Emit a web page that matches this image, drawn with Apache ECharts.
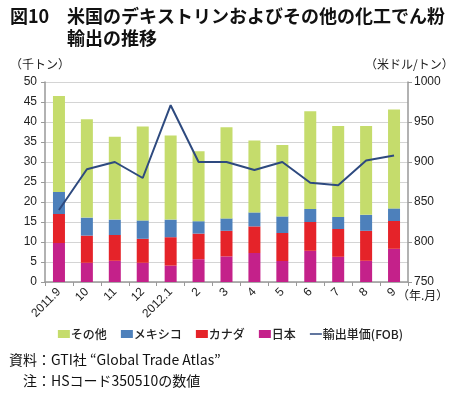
<!DOCTYPE html>
<html><head><meta charset="utf-8">
<script src="https://cdn.jsdelivr.net/npm/echarts@6/dist/echarts.min.js"></script>
<style>html,body{margin:0;padding:0;background:#fff}#c{width:461px;height:395px}</style>
</head><body><div id="c"></div>
<script>
const categories = ['2011.9','10','11','12','2012.1','2','3','4','5','6','7','8','9'];
const japan  = [9.75, 4.8, 5.3, 4.8, 4.1, 5.7, 6.4, 7.25, 5.25, 7.8, 6.3, 5.3, 8.3];
const canada = [7.25, 6.8, 6.45, 6.0, 7.1, 6.4, 6.4, 6.65, 7.0, 7.2, 6.95, 7.5, 6.95];
const mexico = [5.5, 4.5, 3.85, 4.6, 4.4, 3.1, 3.1, 3.5, 4.15, 3.25, 3.0, 4.0, 3.15];
const others = [24.0, 24.6, 20.7, 23.5, 21.0, 17.5, 22.8, 18.0, 17.85, 24.45, 22.75, 22.2, 24.7];
const unitPrice = [840, 891, 900, 880, 971, 900, 900, 890, 900, 874, 871, 902, 908];
const leftTicks = {min: 0, max: 50, interval: 5};
const rightTicks = {min: 750, max: 1000, interval: 50};

const FONT = '"Liberation Sans","Noto Sans CJK JP",sans-serif';
const JP = '"Noto Sans CJK JP","Liberation Sans",sans-serif';
const chart = echarts.init(document.getElementById('c'));
const barW = 12;
const lineIcon = 'path://M0,3.2L12,3.2L12,4.8L0,4.8Z M0,0L0.01,0L0,0.01Z M12,8L11.99,8L12,7.99Z';
chart.setOption({
  animation: false,
  textStyle: {fontFamily: FONT},
  grid: {left: 45, right: 53, top: 82, bottom: 113, containLabel: false},
  legend: {
    left: 'center', top: 323, itemWidth: 12, itemHeight: 8, itemGap: 14,
    textStyle: {fontFamily: JP, fontSize: 12, fontWeight: 500, color: '#222', padding: [0,0,0,-4]},
    data: [
      {name: 'その他', icon: 'rect'},
      {name: 'メキシコ', icon: 'rect'},
      {name: 'カナダ', icon: 'rect'},
      {name: '日本', icon: 'rect'},
      {name: '輸出単価(FOB)', icon: lineIcon}
    ]
  },
  xAxis: {
    type: 'category', data: categories,
    axisLine: {lineStyle: {color: '#999', width: 1.5}},
    axisTick: {show: true, lineStyle: {color: '#999'}, length: 4},
    axisLabel: {rotate: 45, fontSize: 12, color: '#222', margin: 8, interval: 0, fontFamily: FONT}
  },
  yAxis: [
    {type: 'value', min: leftTicks.min, max: leftTicks.max, interval: leftTicks.interval,
     axisLine: {show: true, lineStyle: {color: '#999', width: 1.5}},
     axisTick: {show: true, length: 4, lineStyle: {color: '#999'}},
     splitLine: {lineStyle: {color: '#d4d4d4', width: 1}},
     axisLabel: {fontSize: 12, color: '#222', margin: 8}},
    {type: 'value', min: rightTicks.min, max: rightTicks.max, interval: rightTicks.interval,
     axisLine: {show: true, lineStyle: {color: '#999', width: 1.5}},
     axisTick: {show: true, length: 4, lineStyle: {color: '#999'}},
     splitLine: {show: false},
     axisLabel: {fontSize: 12, color: '#222', margin: 6, formatter: v => String(v)}}
  ],
  series: [
    {name: '日本', type: 'bar', stack: 's', data: japan, barWidth: barW, itemStyle: {color: '#c4218a'}},
    {name: 'カナダ', type: 'bar', stack: 's', data: canada, barWidth: barW, itemStyle: {color: '#e52329'}},
    {name: 'メキシコ', type: 'bar', stack: 's', data: mexico, barWidth: barW, itemStyle: {color: '#4d80bb'}},
    {name: 'その他', type: 'bar', stack: 's', data: others, barWidth: barW, itemStyle: {color: '#c5dc6c'}},
    {name: '輸出単価(FOB)', type: 'line', yAxisIndex: 1, data: unitPrice, symbol: 'none',
     lineStyle: {color: '#2e4a7f', width: 2}, itemStyle: {color: '#2e4a7f'}}
  ],
  graphic: [
    {type: 'text', left: 10, top: 7, style: {text: '図10', font: 'bold 18px ' + JP, fill: '#111'}},
    {type: 'text', left: 67, top: 7, style: {text: '米国のデキストリンおよびその他の化工でん粉', font: 'bold 18px ' + JP, fill: '#111'}},
    {type: 'text', left: 67, top: 29, style: {text: '輸出の推移', font: 'bold 18px ' + JP, fill: '#111'}},
    {type: 'text', left: 10, top: 58, style: {text: '（千トン）', font: '12px ' + JP, fill: '#222'}},
    {type: 'text', left: 365, top: 58, style: {text: '（米ドル/トン）', font: '12px ' + JP, fill: '#222'}},
    {type: 'text', left: 397, top: 289, style: {text: '（年.月）', font: '12px ' + JP, fill: '#222'}},
    {type: 'text', left: 9, top: 353, style: {text: '資料：GTI社 “Global Trade Atlas”', font: '14px ' + JP, fill: '#111'}},
    {type: 'text', left: 23, top: 374, style: {text: '注：HSコード350510の数値', font: '14px ' + JP, fill: '#111'}}
  ]
});
</script></body></html>
